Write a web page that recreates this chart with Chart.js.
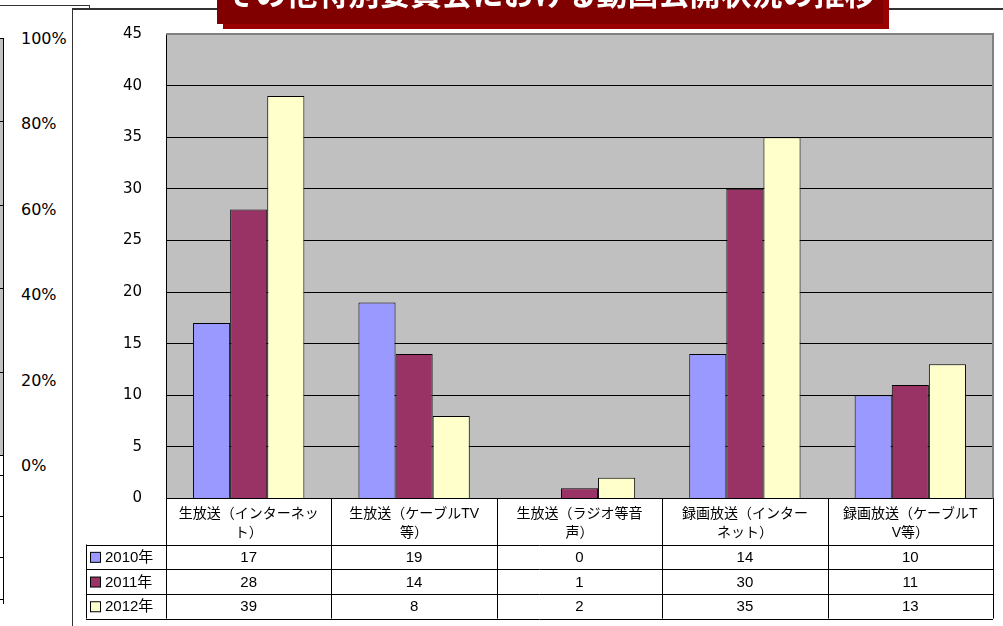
<!DOCTYPE html>
<html>
<head>
<meta charset="utf-8">
<script src="https://cdn.jsdelivr.net/npm/chart.js@4.4.1/dist/chart.umd.min.js"></script>
<style>
  body { margin: 0; background: #fff; overflow: hidden; }
  #page { position: relative; width: 1003px; height: 626px; overflow: hidden;
          font-family: 'Liberation Sans', 'Noto Sans CJK JP', sans-serif; }
  .abs { position: absolute; }
  #banner { left: 217px; top: -24px; width: 666px; height: 48px; background: #800000;
            box-shadow: 6px 5px 0 #990000; z-index: 5; overflow: hidden; }
  #banner span { position: absolute; left: 0; right: 0; top: 0; text-align: center; color: #fff;
                 font: bold 31px 'Noto Sans CJK JP', sans-serif; line-height: 31px; white-space: nowrap; }
  #frame { left: 72px; top: 8px; width: 1003px; height: 700px; border-left: 1px solid #333;
           border-top: 2px solid #333; background: #fff; z-index: 1; }
  #chartBox { left: 0; top: 0; width: 1003px; height: 626px; z-index: 2; }
  .pct { font: 16px 'DejaVu Sans', sans-serif; color: #000; left: 21px; line-height: 16px; }
</style>
</head>
<body>
<div id="page">
  <div class="abs" style="left:0;top:5px;width:89px;height:4px;border-top:1px solid #333;border-right:1px solid #333;"></div>
  <div class="abs" id="leftStrip" style="left:0;top:38px;width:3px;height:417px;background:#c0c0c0;border-right:1px solid #000;"></div>
  <div class="abs" style="left:3px;top:455px;width:1px;height:149px;background:#000;"></div>
  <div id="frame" class="abs"></div>
  <div id="banner" class="abs"><span id="titleText"></span></div>
  <div id="chartBox" class="abs"><canvas id="myChart"></canvas></div>
</div>
<script>
const titleText = 'その他特別委員会における動画公開状況の推移';
const categories = [
  ['生放送（インターネッ', 'ト）'],
  ['生放送（ケーブルTV', '等）'],
  ['生放送（ラジオ等音', '声）'],
  ['録画放送（インター', 'ネット）'],
  ['録画放送（ケーブルT', 'V等）']
];
const years = ['2010年', '2011年', '2012年'];
const values2010 = [17, 19, 0, 14, 10];
const values2011 = [28, 14, 1, 30, 11];
const values2012 = [39, 8, 2, 35, 13];
const yMax = 45;
const yStep = 5;
// the other chart peeking out on the left
const leftTicks = ['100%', '80%', '60%', '40%', '20%', '0%'];
const leftGridLines = 6;

const colors = ['#9999ff', '#993366', '#ffffcc'];
const txt = '15px "Liberation Sans", "Noto Sans CJK JP", sans-serif';

document.getElementById('titleText').textContent = titleText;

const page = document.getElementById('page');
leftTicks.forEach((t, i) => {
  const d = document.createElement('div');
  d.className = 'abs pct';
  d.style.top = (31 + i * 85.4) + 'px';
  d.textContent = t;
  page.appendChild(d);
});
for (let i = 0; i < leftGridLines; i++) {
  const l = document.createElement('div');
  l.className = 'abs';
  l.style.cssText = 'left:0;width:3px;height:1px;background:#000;top:' + (38 + i * 83.4) + 'px';
  page.appendChild(l);
}
[475, 516, 557, 599].forEach(y => {
  const l = document.createElement('div');
  l.className = 'abs';
  l.style.cssText = 'left:0;width:3px;height:1px;background:#000;top:' + y + 'px';
  page.appendChild(l);
});

const plotBg = {
  id: 'plotBg',
  beforeDraw(chart) {
    const a = chart.chartArea, c = chart.ctx;
    c.save();
    c.fillStyle = '#c0c0c0';
    c.fillRect(a.left, a.top, a.right - a.left, a.bottom - a.top);
    c.restore();
  },
  afterDraw(chart) {
    const a = chart.chartArea, c = chart.ctx;
    c.save();
    c.strokeStyle = '#808080';
    c.lineWidth = 2;
    c.beginPath();
    c.moveTo(a.left, a.top);
    c.lineTo(a.right, a.top);
    c.lineTo(a.right, a.bottom);
    c.stroke();
    c.restore();
  }
};

// data table under the x axis
const dataTable = {
  id: 'dataTable',
  afterDraw(chart) {
    const c = chart.ctx, a = chart.chartArea, xs = chart.scales.x;
    const n = categories.length;
    const half = (a.right - a.left) / n / 2;
    const headBottom = xs.bottom;
    const rowH = 24.7;
    const legendLeft = 86;
    const tableBottom = headBottom + rowH * years.length;
    c.save();
    c.strokeStyle = '#000';
    c.lineWidth = 1;
    c.beginPath();
    for (let r = 0; r <= years.length; r++) {
      const y = Math.round(headBottom + r * rowH) + 0.5;
      c.moveTo(legendLeft, y);
      c.lineTo(a.right, y);
    }
    for (let i = 0; i <= n; i++) {
      const x = Math.round(xs.getPixelForValue(i) - half) + 0.5;
      c.moveTo(x, a.bottom);
      c.lineTo(x, tableBottom);
    }
    c.moveTo(legendLeft + 0.5, headBottom);
    c.lineTo(legendLeft + 0.5, tableBottom);
    c.stroke();

    c.font = txt;
    c.textBaseline = 'middle';
    chart.data.datasets.forEach((ds, r) => {
      const cy = headBottom + r * rowH + rowH / 2 + 1;
      c.fillStyle = ds.backgroundColor;
      c.fillRect(legendLeft + 4.5, cy - 5.5, 10, 10);
      c.strokeRect(legendLeft + 4.5, cy - 5.5, 10, 10);
      c.fillStyle = '#000';
      c.textAlign = 'left';
      c.fillText(ds.label, legendLeft + 19, cy);
      c.textAlign = 'center';
      ds.data.forEach((v, i) => {
        c.fillText(String(v), xs.getPixelForValue(i), cy);
      });
    });
    c.restore();
  }
};

const ctx = document.getElementById('myChart');
const myChart = new Chart(ctx, {
  type: 'bar',
  data: {
    labels: categories,
    datasets: [
      { label: years[0], data: values2010, backgroundColor: colors[0] },
      { label: years[1], data: values2011, backgroundColor: colors[1] },
      { label: years[2], data: values2012, backgroundColor: colors[2] }
    ]
  },
  options: {
    responsive: true,
    maintainAspectRatio: false,
    animation: false,
    layout: { padding: { left: 0, right: 10, top: 34, bottom: 81.5 } },
    datasets: {
      bar: {
        borderColor: '#000',
        borderWidth: 1,
        categoryPercentage: 0.673,
        barPercentage: 1
      }
    },
    plugins: {
      legend: { display: false },
      tooltip: { enabled: false }
    },
    scales: {
      x: {
        afterFit(scale) { scale.height = 46; },
        grid: { display: false, drawTicks: false },
        border: { color: '#000', width: 1 },
        ticks: {
          color: '#000', padding: 6, maxRotation: 0, autoSkip: false,
          font: { size: 14, family: '"Liberation Sans", "Noto Sans CJK JP", sans-serif', lineHeight: 1.35 }
        }
      },
      y: {
        min: 0,
        max: yMax,
        afterFit(scale) { scale.width = 166; },
        grid: { color: '#000', lineWidth: 1, drawTicks: false },
        border: { color: '#000', width: 1 },
        ticks: {
          stepSize: yStep, color: '#000', padding: 24,
          font: { size: 15, family: '"DejaVu Sans", sans-serif' }
        }
      }
    }
  },
  plugins: [plotBg, dataTable]
});
</script>
</body>
</html>
